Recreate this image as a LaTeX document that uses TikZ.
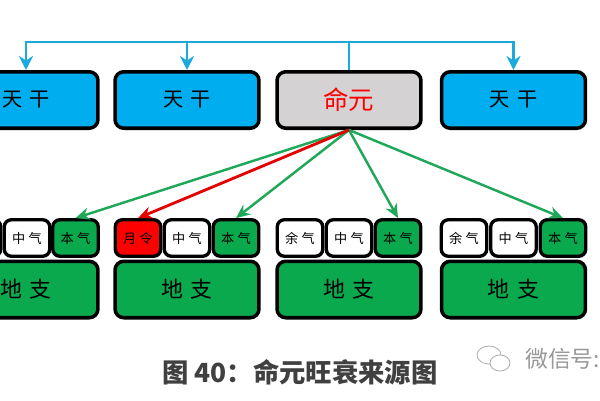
\documentclass[tikz,border=0pt]{standalone}
\usepackage{fontspec}
\newfontfamily\cjk{Noto Sans CJK SC}
\usetikzlibrary{arrows.meta}
\definecolor{ganblue}{HTML}{00AEEF}
\definecolor{linkblue}{HTML}{1CA9DC}
\definecolor{zhigreen}{HTML}{0BA94D}
\definecolor{linkgreen}{HTML}{1FA85A}
\definecolor{mingray}{HTML}{D4D2D2}
\tikzset{
  bigbox/.style={draw=black,line width=2pt,rounded corners=5pt,inner sep=0pt,
    minimum width=2.88cm,minimum height=1.13cm,font=\cjk\fontsize{11.5}{12}\selectfont},
  smallbox/.style={draw=black,line width=1.9pt,rounded corners=4pt,inner sep=0pt,fill=white,
    minimum width=0.91cm,minimum height=0.73cm,font=\cjk\fontsize{7.5}{8}\selectfont},
  gan/.style={bigbox,fill=ganblue},
  zhi/.style={bigbox,fill=zhigreen,font=\cjk\fontsize{12.5}{13}\selectfont},
  ben/.style={smallbox,fill=zhigreen},
  bus/.style={linkblue,line width=1.6pt},
  busarrow/.style={bus,-{Stealth[length=8pt,width=8pt]}},
  gline/.style={linkgreen,line width=1.4pt,-{Stealth[length=8pt,width=7pt]}},
  rline/.style={red!90!black,line width=1.6pt,-{Stealth[length=8pt,width=7pt]}},
}
\begin{document}
\begin{tikzpicture}[x=0.02cm,y=-0.02cm]
    \clip (0,0) rectangle (600,400);
    % top row
    \node[gan] (gan1) at (26,100) {天\hspace{0.35em}干};
    \node[gan] (gan2) at (187,100) {天\hspace{0.35em}干};
    \node[bigbox,fill=mingray,text=red,font=\cjk\fontsize{14.5}{15}\selectfont] (ming) at (349,100) {命元};
    \node[gan] (gan4) at (513.5,100) {天\hspace{0.35em}干};
    % bottom row
    \node[zhi] (zhi1) at (26,289.5) {地\hspace{0.35em}支};
    \node[zhi] (zhi2) at (187,289.5) {地\hspace{0.35em}支};
    \node[zhi] (zhi3) at (349,289.5) {地\hspace{0.35em}支};
    \node[zhi] (zhi4) at (513.5,289.5) {地\hspace{0.35em}支};
    % hidden stems, column by column
    \node[smallbox] (yu1) at (-22,238) {};
    \node[smallbox] (zhong1) at (27,238) {中\hspace{0.25em}气};
    \node[ben] (ben1) at (75.5,238) {本\hspace{0.25em}气};
    \node[smallbox,fill=red] (yue2) at (138,238) {月\hspace{0.25em}令};
    \node[smallbox] (zhong2) at (187,238) {中\hspace{0.25em}气};
    \node[ben] (ben2) at (236,238) {本\hspace{0.25em}气};
    \node[smallbox] (yu3) at (300,238) {余\hspace{0.25em}气};
    \node[smallbox] (zhong3) at (349,238) {中\hspace{0.25em}气};
    \node[ben] (ben3) at (398,238) {本\hspace{0.25em}气};
    \node[smallbox] (yu4) at (464,238) {余\hspace{0.25em}气};
    \node[smallbox] (zhong4) at (513.5,238) {中\hspace{0.25em}气};
    \node[ben] (ben4) at (563,238) {本\hspace{0.25em}气};
    % blue bus
    \coordinate (busmid) at (349,42);
    \draw[bus] (ming.north) -- (busmid);
    \draw[busarrow] (busmid) -| (gan1.north);
    \draw[busarrow] (busmid) -| (gan2.north);
    \draw[busarrow] (busmid) -| (gan4.north);
    % links down from the day master
    \draw[gline] (ming.south) -- (ben1.north);
    \draw[gline] (ming.south) -- (ben2.north);
    \draw[gline] (ming.south) -- (ben3.north);
    \draw[gline] (ming.south) -- (ben4.north);
    \draw[rline] (ming.south) -- (yue2.north);
    % caption and watermark
    \node[font=\cjk\bfseries\fontsize{15}{16}\selectfont,text=black!75] (caption) at (300,372) {图 40\symbol{"FF1A}命元旺衰来源图};
    \node[font=\cjk\fontsize{13}{14}\selectfont,text=black!40,anchor=west] (mark) at (519,359) {微信号:};
    \draw[black!30,line width=0.5pt,fill=white] (489,355) ellipse (12 and 9);
    \draw[black!30,line width=0.5pt,fill=white] (500,363) ellipse (10 and 8);
\end{tikzpicture}
\end{document}
